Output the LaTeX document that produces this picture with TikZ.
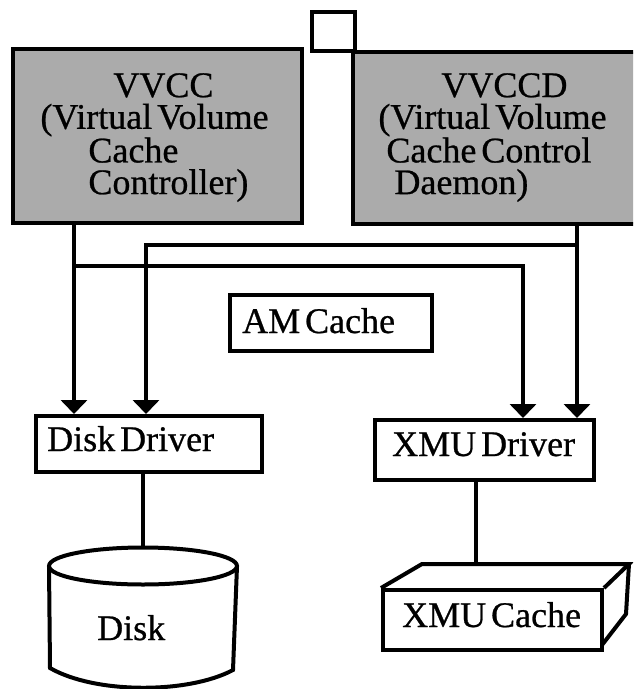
\documentclass[tikz,border=0pt]{standalone}
\usepackage{fontspec}
\setmainfont{Liberation Serif}[WordSpace=0.55, FakeBold=0.7]
\usetikzlibrary{arrows.meta}
\begin{document}
\begin{tikzpicture}[x=1pt, y=-1pt,
  font=\fontsize{36}{31.7}\selectfont,
  box/.style={draw, line width=4pt},
  gbox/.style={box, fill=black!33, inner sep=0pt},
  wbox/.style={box, fill=white, inner sep=0pt},
  lbl/.style={inner sep=0pt, align=left},
  txt/.style={inner sep=0pt, anchor=base west},
  link/.style={line width=3.5pt},
  arr/.style={link, -{Triangle[length=14pt, width=26pt]}}]
\useasboundingbox (0,0) rectangle (633,689);
\clip (0,0) rectangle (633,689);

% junction points of the control lines
\coordinate (c1) at (74,266);
\coordinate (c2) at (523,266);
\coordinate (d1) at (577,245);
\coordinate (d2) at (146,245);
\coordinate (disktop) at (143,548);
\coordinate (xmutop) at (476,564);

% controller and daemon
\node[box, minimum width=43pt, minimum height=39pt, inner sep=0pt] (sq) at (333.5,31.5) {};
\node[gbox, minimum width=289pt, minimum height=174pt] (vvcc) at (157.5,136) {};
\node[lbl] (vvcctxt) at (154.5,137.5)
  {\hspace*{73pt}VVCC\\(Virtual Volume\\\hspace*{48pt}Cache\\\hspace*{48pt}Controller)};
\node[gbox, minimum width=297pt, minimum height=172pt] (vvccd) at (501.5,138) {};
\node[lbl] (vvccdtxt) at (492.5,137.5)
  {\hspace*{63pt}VVCCD\\(Virtual Volume\\\hspace*{8pt}Cache Control\\\hspace*{16pt}Daemon)};

% drivers and cache
\node[wbox, minimum width=202pt, minimum height=56pt] (am) at (331,323) {};
\node[txt] (amtxt) at (242,333) {AM Cache};
\node[wbox, minimum width=226pt, minimum height=56pt] (diskdrv) at (149,444) {};
\node[txt] (diskdrvtxt) at (47,451) {Disk Driver};
\node[wbox, minimum width=219pt, minimum height=60pt] (xmudrv) at (484.5,450) {};
\node[txt] (xmudrvtxt) at (392,456) {XMU Driver};

% control lines
\draw[arr] (vvcc.south -| c1) -- (diskdrv.north -| c1);
\draw[arr] (c1) -- (c2) -- (xmudrv.north -| c2);
\draw[arr] (vvccd.south -| d1) -- (xmudrv.north -| d1);
\draw[arr] (d1) -- (d2) -- (diskdrv.north -| d2);

% disk cylinder
\draw[link] (diskdrv.south -| disktop) -- (disktop);
\draw[box, fill=white] (49,566) -- (50,668) .. controls (95,694) and (188,694) .. (233,670) -- (237,566);
\draw[box, fill=white] (143,566) ellipse [x radius=94pt, y radius=18.5pt];
\node[txt] (disk) at (97,640) {Disk};

% XMU cache block
\draw[link] (xmudrv.south -| xmutop) -- (xmutop);
\node[wbox, minimum width=219pt, minimum height=60pt] (xmuc) at (492.5,620) {};
\node[txt] (xmuctxt) at (402,627) {XMU Cache};
\draw[box, line join=miter] (xmuc.north west) -- (422,564) -- (629,564) -- (xmuc.north east);
\draw[box, line join=miter] (629,564) -- (626,614) -- (602,645);
\end{tikzpicture}
\end{document}
